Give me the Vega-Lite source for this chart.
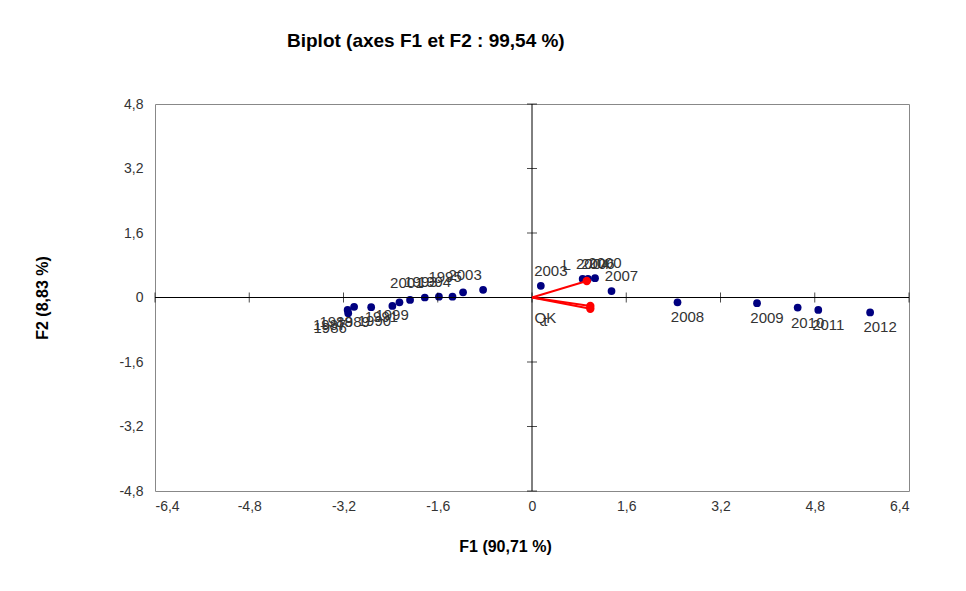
{
  "$schema": "https://vega.github.io/schema/vega-lite/v6.json",
  "width": 754,
  "height": 387,
  "autosize": {"type": "none"},
  "padding": {"left": 155, "top": 104, "right": 57, "bottom": 100},
  "background": "white",
  "title": {
    "text": "Biplot (axes F1 et F2 : 99,54 %)",
    "anchor": "start",
    "frame": "group",
    "dx": 132,
    "offset": 46,
    "fontSize": 19,
    "fontWeight": "bold",
    "font": "Liberation Sans",
    "color": "black"
  },
  "config": {
    "view": {"stroke": "#888888", "strokeWidth": 1},
    "axis": {
      "grid": false,
      "domain": false,
      "ticks": false,
      "labelFont": "Liberation Sans",
      "labelFontSize": 14,
      "labelColor": "#333333",
      "titleFont": "Liberation Sans",
      "titleFontSize": 16,
      "titleFontWeight": "bold",
      "titleColor": "black"
    },
    "text": {"font": "Liberation Sans", "fontSize": 15, "color": "#333333"}
  },
  "datasets": {
    "obs": [
      {"x": -3.13, "y": -0.31, "label": "1987"},
      {"x": -3.12, "y": -0.39, "label": "1986"},
      {"x": -3.02, "y": -0.23, "label": "1988"},
      {"x": -2.73, "y": -0.24, "label": "1989"},
      {"x": -2.37, "y": -0.21, "label": "1990"},
      {"x": -2.25, "y": -0.12, "label": "1991"},
      {"x": -2.07, "y": -0.06, "label": "1999"},
      {"x": -1.82, "y": 0.0, "label": "2001"},
      {"x": -1.58, "y": 0.02, "label": "1993"},
      {"x": -1.35, "y": 0.02, "label": "1994"},
      {"x": -1.17, "y": 0.13, "label": "1995"},
      {"x": -0.83, "y": 0.19, "label": "2003"},
      {"x": 0.15, "y": 0.29, "label": "2003"},
      {"x": 0.86, "y": 0.46, "label": "2004"},
      {"x": 0.95, "y": 0.46, "label": "2006"},
      {"x": 1.07, "y": 0.48, "label": "2000"},
      {"x": 1.35, "y": 0.16, "label": "2007"},
      {"x": 2.47, "y": -0.12, "label": "2008"},
      {"x": 3.82, "y": -0.14, "label": "2009"},
      {"x": 4.51, "y": -0.25, "label": "2010"},
      {"x": 4.86, "y": -0.31, "label": "2011"},
      {"x": 5.74, "y": -0.37, "label": "2012"}
    ],
    "vars": [
      {"x": 0.93, "y": 0.41, "label": "L"},
      {"x": 0.99, "y": -0.21, "label": "QK"},
      {"x": 0.99, "y": -0.28, "label": "t"}
    ],
    "xticks": [
      {"x": -6.4}, {"x": -4.8}, {"x": -3.2}, {"x": -1.6}, {"x": 0}, {"x": 1.6}, {"x": 3.2}, {"x": 4.8}, {"x": 6.4}
    ],
    "yticks": [
      {"y": -4.8}, {"y": -3.2}, {"y": -1.6}, {"y": 0}, {"y": 1.6}, {"y": 3.2}, {"y": 4.8}
    ],
    "one": [{"v": 0}]
  },
  "layer": [
    {
      "data": {"name": "obs"},
      "mark": {"type": "point", "filled": true, "opacity": 1, "size": 60, "color": "#000080"},
      "encoding": {
        "x": {
          "field": "x", "type": "quantitative", "title": "F1 (90,71 %)",
          "scale": {"domain": [-6.4, 6.4], "nice": false, "zero": false},
          "axis": {
            "values": [-6.4, -4.8, -3.2, -1.6, 0, 1.6, 3.2, 4.8, 6.4],
            "labelExpr": "replace(toString(datum.value), '.', ',')",
            "labelPadding": 8,
            "titlePadding": 25,
            "titleX": 350
          }
        },
        "y": {
          "field": "y", "type": "quantitative", "title": "F2 (8,83 %)",
          "scale": {"domain": [-4.8, 4.8], "nice": false, "zero": false},
          "axis": {
            "values": [-4.8, -3.2, -1.6, 0, 1.6, 3.2, 4.8],
            "labelExpr": "replace(toString(datum.value), '.', ',')",
            "labelPadding": 12,
            "titlePadding": 68
          }
        }
      }
    },
    {
      "data": {"name": "one"},
      "mark": {"type": "rule", "color": "black", "strokeWidth": 1},
      "encoding": {"x": {"field": "v", "type": "quantitative", "title": "F1 (90,71 %)"}}
    },
    {
      "data": {"name": "one"},
      "mark": {"type": "rule", "color": "black", "strokeWidth": 1},
      "encoding": {"y": {"field": "v", "type": "quantitative", "title": "F2 (8,83 %)"}}
    },
    {
      "data": {"name": "xticks"},
      "mark": {"type": "tick", "orient": "vertical", "color": "black", "size": 10, "thickness": 1},
      "encoding": {
        "x": {"field": "x", "type": "quantitative", "title": "F1 (90,71 %)"},
        "y": {"datum": 0, "type": "quantitative", "title": "F2 (8,83 %)"}
      }
    },
    {
      "data": {"name": "yticks"},
      "mark": {"type": "tick", "orient": "horizontal", "color": "black", "size": 10, "thickness": 1},
      "encoding": {
        "x": {"datum": 0, "type": "quantitative", "title": "F1 (90,71 %)"},
        "y": {"field": "y", "type": "quantitative", "title": "F2 (8,83 %)"}
      }
    },
    {
      "data": {"name": "obs"},
      "layer": [
        {
          "transform": [{"filter": "datum.x < 0 && datum.y < 0"}],
          "mark": {"type": "text", "dx": -18, "dy": 15}
        },
        {
          "transform": [{"filter": "datum.x < 0 && datum.y >= 0"}],
          "mark": {"type": "text", "dx": -18, "dy": -15}
        },
        {
          "transform": [{"filter": "datum.x >= 0 && datum.y < 0"}],
          "mark": {"type": "text", "dx": 10, "dy": 15}
        },
        {
          "transform": [{"filter": "datum.x >= 0 && datum.y >= 0"}],
          "mark": {"type": "text", "dx": 10, "dy": -15}
        }
      ],
      "encoding": {
        "x": {"field": "x", "type": "quantitative", "title": "F1 (90,71 %)"},
        "y": {"field": "y", "type": "quantitative", "title": "F2 (8,83 %)"},
        "text": {"field": "label"}
      }
    },
    {
      "data": {"name": "vars"},
      "mark": {"type": "rule", "color": "#ff0000", "strokeWidth": 2},
      "encoding": {
        "x": {"field": "x", "type": "quantitative", "title": "F1 (90,71 %)"},
        "y": {"field": "y", "type": "quantitative", "title": "F2 (8,83 %)"},
        "x2": {"datum": 0},
        "y2": {"datum": 0}
      }
    },
    {
      "data": {"name": "vars"},
      "mark": {"type": "point", "filled": true, "opacity": 1, "size": 70, "color": "#ff0000"},
      "encoding": {
        "x": {"field": "x", "type": "quantitative", "title": "F1 (90,71 %)"},
        "y": {"field": "y", "type": "quantitative", "title": "F2 (8,83 %)"}
      }
    },
    {
      "data": {"name": "vars"},
      "layer": [
        {
          "transform": [{"filter": "datum.y >= 0"}],
          "mark": {"type": "text", "dx": -20, "dy": -16}
        },
        {
          "transform": [{"filter": "datum.y < 0"}],
          "mark": {"type": "text", "dx": -45, "dy": 12}
        }
      ],
      "encoding": {
        "x": {"field": "x", "type": "quantitative", "title": "F1 (90,71 %)"},
        "y": {"field": "y", "type": "quantitative", "title": "F2 (8,83 %)"},
        "text": {"field": "label"}
      }
    }
  ]
}
